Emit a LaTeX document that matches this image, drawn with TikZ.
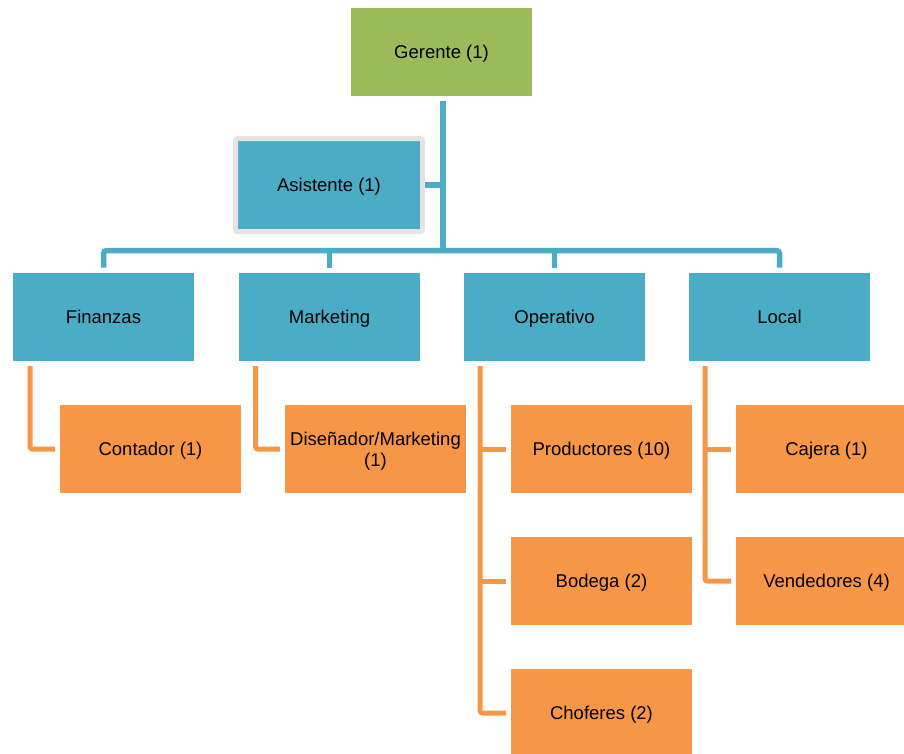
\documentclass[tikz,border=0pt]{standalone}
\usepackage{fontspec}
\setmainfont{Liberation Sans}
\definecolor{topgreen}{HTML}{9BBB59}
\definecolor{deptblue}{HTML}{4BACC6}
\definecolor{staffor}{HTML}{F79646}
\definecolor{frame}{HTML}{E4E4E4}
\tikzset{
  box/.style={minimum width=181pt, minimum height=88pt, inner sep=0pt, outer sep=0pt,
    align=center, font=\fontsize{18.5}{21}\selectfont, text=black,
    text height=16.8pt, text depth=3.6pt},
  headbox/.style={box, fill=topgreen},
  deptbox/.style={box, fill=deptblue},
  staffbox/.style={box, fill=staffor},
  blueline/.style={draw=deptblue, line width=5.5pt, rounded corners=3pt},
  orline/.style={draw=staffor, line width=5pt, rounded corners=2.5pt},
}
\begin{document}
\begin{tikzpicture}[x=1pt,y=-1pt]
\useasboundingbox (0,0) rectangle (904,753);

% top level
\node[headbox] (ger) at (441.5,52) {Gerente (1)};
\node[deptbox, minimum width=187pt, minimum height=93pt, draw=frame, line width=5pt,
      rounded corners=2pt, outer sep=2.5pt] (asi) at (329,185) {Asistente (1)};

% departments
\node[deptbox] (fin) at (103.5,317) {Finanzas};
\node[deptbox] (mkt) at (329.5,317) {Marketing};
\node[deptbox] (ope) at (554.5,317) {Operativo};
\node[deptbox] (loc) at (779.5,317) {Local};

% staff
\node[staffbox] (con) at (150.5,449) {Contador (1)};
\node[staffbox, text height=37.8pt] (dis) at (375.5,449) {Diseñador/Marketing\\(1)};
\node[staffbox] (pro) at (601.5,449) {Productores (10)};
\node[staffbox] (bod) at (601.5,581) {Bodega (2)};
\node[staffbox] (cho) at (601.5,713) {Choferes (2)};
\node[staffbox] (caj) at (826.5,449) {Cajera (1)};
\node[staffbox] (ven) at (826.5,581) {Vendedores (4)};

% blue connectors
\coordinate (bus) at (443,250.5);
\draw[blueline] ([yshift=-5pt]ger.south -| bus) -- (bus);
\draw[blueline] (asi.east) -- (asi.east -| bus);
\draw[blueline] ([yshift=5.5pt]fin.north) |- (bus) -| ([yshift=5.5pt]loc.north);
\draw[blueline] ([yshift=5.5pt]mkt.north) -- (mkt.north |- bus);
\draw[blueline] ([yshift=5.5pt]ope.north) -- (ope.north |- bus);

% orange connectors
\coordinate (finr) at ([xshift=17pt,yshift=-5pt]fin.south west);
\coordinate (mktr) at ([xshift=16.5pt,yshift=-5pt]mkt.south west);
\coordinate (oper) at ([xshift=16pt,yshift=-5pt]ope.south west);
\coordinate (locr) at ([xshift=16pt,yshift=-5pt]loc.south west);
\draw[orline] (finr) |- ([xshift=-5pt]con.west);
\draw[orline] (mktr) |- ([xshift=-5pt]dis.west);
\draw[orline] (oper) |- ([xshift=-5pt]cho.west);
\draw[orline] ([xshift=-5pt]pro.west) -- (pro.west -| oper);
\draw[orline] ([xshift=-5pt]bod.west) -- (bod.west -| oper);
\draw[orline] (locr) |- ([xshift=-5pt]ven.west);
\draw[orline] ([xshift=-5pt]caj.west) -- (caj.west -| locr);
\end{tikzpicture}
\end{document}
